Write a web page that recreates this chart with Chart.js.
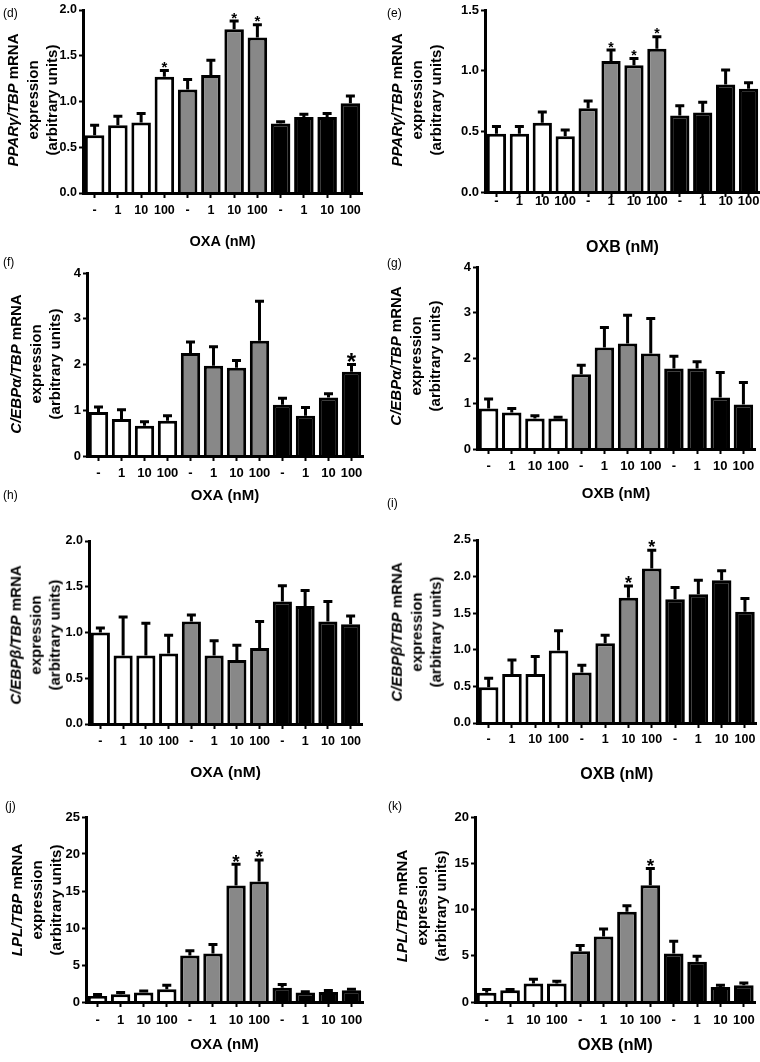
<!DOCTYPE html>
<html>
<head>
<meta charset="utf-8">
<script src="https://cdn.jsdelivr.net/npm/chart.js@4"></script>
<style>
  body { margin: 0; background: #fff; }
  #fig { position: relative; width: 760px; height: 1062px; overflow: hidden; }
  #fig canvas { position: absolute; }
  .lbl { position: absolute; font: 12px 'Liberation Sans', Arial, sans-serif; line-height: 14px; transform: translateY(-50%); }
  .yt { position: absolute; font-family: 'Liberation Sans', Arial, sans-serif; font-weight: bold; font-size: 15px;
        line-height: 19.5px; text-align: center; white-space: nowrap; transform: translate(-50%, -50%) rotate(-90deg); }
</style>
</head>
<body>
<div id="fig"></div>
<script>
// x categories: vehicle (-) and 1/10/100 nM, three culture groups
const categories = ['-', '1', '10', '100', '-', '1', '10', '100', '-', '1', '10', '100'];

// (d) PPARg, OXA
const pparg_oxa      = [0.63, 0.74, 0.77, 1.27, 1.13, 1.29, 1.79, 1.70, 0.76, 0.83, 0.83, 0.98];
const pparg_oxa_sem  = [0.11, 0.10, 0.10, 0.07, 0.11, 0.16, 0.09, 0.14, 0.02, 0.03, 0.04, 0.08];
const pparg_oxa_star = [3, 6, 7];

// (e) PPARg, OXB
const pparg_oxb      = [0.48, 0.48, 0.57, 0.46, 0.69, 1.08, 1.045, 1.18, 0.63, 0.655, 0.885, 0.85];
const pparg_oxb_sem  = [0.06, 0.06, 0.09, 0.05, 0.06, 0.09, 0.055, 0.10, 0.08, 0.085, 0.12, 0.05];
const pparg_oxb_star = [5, 6, 7];

// (f) C/EBPa, OXA
const cebpa_oxa      = [0.96, 0.81, 0.66, 0.77, 2.25, 1.97, 1.93, 2.52, 1.12, 0.88, 1.28, 1.84];
const cebpa_oxa_sem  = [0.11, 0.20, 0.09, 0.11, 0.24, 0.42, 0.16, 0.86, 0.14, 0.18, 0.08, 0.16];
const cebpa_oxa_star = [11];

// (g) C/EBPa, OXB
const cebpa_oxb      = [0.89, 0.80, 0.67, 0.67, 1.645, 2.23, 2.32, 2.10, 1.77, 1.77, 1.13, 0.98];
const cebpa_oxb_sem  = [0.21, 0.09, 0.06, 0.03, 0.195, 0.44, 0.62, 0.77, 0.27, 0.15, 0.55, 0.48];
const cebpa_oxb_star = [];

// (h) C/EBPb, OXA
const cebpb_oxa      = [1.00, 0.75, 0.75, 0.77, 1.12, 0.75, 0.70, 0.83, 1.34, 1.29, 1.12, 1.09];
const cebpb_oxa_sem  = [0.05, 0.42, 0.35, 0.20, 0.07, 0.16, 0.16, 0.29, 0.17, 0.17, 0.22, 0.09];
const cebpb_oxa_star = [];

// (i) C/EBPb, OXB
const cebpb_oxb      = [0.49, 0.67, 0.67, 0.99, 0.69, 1.09, 1.71, 2.11, 1.69, 1.76, 1.95, 1.52];
const cebpb_oxb_sem  = [0.12, 0.19, 0.24, 0.27, 0.10, 0.11, 0.16, 0.25, 0.16, 0.19, 0.13, 0.18];
const cebpb_oxb_star = [6, 7];

// (j) LPL, OXA
const lpl_oxa        = [0.80, 1.04, 1.27, 1.72, 6.28, 6.56, 15.73, 16.27, 1.94, 1.27, 1.36, 1.58];
const lpl_oxa_sem    = [0.20, 0.23, 0.23, 0.54, 0.64, 1.21, 2.87, 2.93, 0.41, 0.13, 0.18, 0.14];
const lpl_oxa_star   = [6, 7];

// (k) LPL, OXB
const lpl_oxb        = [1.01, 1.27, 1.99, 1.99, 5.50, 7.09, 9.76, 12.62, 5.24, 4.34, 1.63, 1.81];
const lpl_oxb_sem    = [0.33, 0.07, 0.47, 0.25, 0.61, 0.79, 0.64, 1.81, 1.34, 0.61, 0.18, 0.25];
const lpl_oxb_star   = [7];

const barColors = ['#fff', '#fff', '#fff', '#fff', '#888', '#888', '#888', '#888', '#000', '#000', '#000', '#000'];
const FONT = "'Liberation Sans', Arial, sans-serif";

const panels = [
  { tag: '(d)', vals: pparg_oxa, sem: pparg_oxa_sem, stars: pparg_oxa_star, max: 2, step: 0.5, dec: 1,
    ytitle: '<i>PPARγ/TBP</i> mRNA', xtitle: 'OXA (nM)',
    L: 0, T: 0, W: 380, H: 258, ax: 83, ty: 10, rx: 362, by: 193, tickY: 211, titleY: 242,
    tfs: 12.5, xfs: 14.5, sfs: 15, lx: 3, ly: 13, tcx: 32, tcy: 99.5 },
  { tag: '(e)', vals: pparg_oxb, sem: pparg_oxb_sem, stars: pparg_oxb_star, max: 1.5, step: 0.5, dec: 1,
    ytitle: '<i>PPARγ/TBP</i> mRNA', xtitle: 'OXB (nM)',
    L: 380, T: 0, W: 380, H: 260, ax: 485, ty: 10, rx: 760, by: 192, tickY: 201.5, titleY: 248,
    tfs: 13, xfs: 16, sfs: 14, lx: 387, ly: 13, tcx: 416, tcy: 99.5 },
  { tag: '(f)', vals: cebpa_oxa, sem: cebpa_oxa_sem, stars: cebpa_oxa_star, max: 4, step: 1, dec: 0,
    ytitle: '<i>C/EBPα/TBP</i> mRNA', xtitle: 'OXA (nM)',
    L: 0, T: 258, W: 380, H: 252, ax: 87, ty: 273, rx: 363, by: 456, tickY: 473, titleY: 496,
    tfs: 13, xfs: 15, sfs: 24, lx: 3, ly: 262, tcx: 35, tcy: 363.5 },
  { tag: '(g)', vals: cebpa_oxb, sem: cebpa_oxb_sem, stars: cebpa_oxb_star, max: 4, step: 1, dec: 0,
    ytitle: '<i>C/EBPα/TBP</i> mRNA', xtitle: 'OXB (nM)',
    L: 380, T: 252, W: 380, H: 256, ax: 477, ty: 267, rx: 755, by: 449, tickY: 466, titleY: 494,
    tfs: 13, xfs: 15, sfs: 16, lx: 387, ly: 263, tcx: 415, tcy: 355.5 },
  { tag: '(h)', vals: cebpb_oxa, sem: cebpb_oxa_sem, stars: cebpb_oxa_star, max: 2, step: 0.5, dec: 1,
    ytitle: '<i>C/EBPβ/TBP</i> mRNA', xtitle: 'OXA (nM)',
    L: 0, T: 526, W: 380, H: 260, ax: 89, ty: 541, rx: 362, by: 724, tickY: 742, titleY: 773,
    tfs: 12.5, xfs: 15.5, sfs: 16, lx: 3, ly: 495, tcx: 35, tcy: 634.5 },
  { tag: '(i)', vals: cebpb_oxb, sem: cebpb_oxb_sem, stars: cebpb_oxb_star, max: 2.5, step: 0.5, dec: 1,
    ytitle: '<i>C/EBPβ/TBP</i> mRNA', xtitle: 'OXB (nM)',
    L: 380, T: 525, W: 380, H: 262, ax: 477, ty: 540, rx: 757, by: 723, tickY: 740, titleY: 775,
    tfs: 12.5, xfs: 16, sfs: 18, lx: 387, ly: 503, tcx: 416, tcy: 631.5 },
  { tag: '(j)', vals: lpl_oxa, sem: lpl_oxa_sem, stars: lpl_oxa_star, max: 25, step: 5, dec: 0,
    ytitle: '<i>LPL/TBP</i> mRNA', xtitle: 'OXA (nM)',
    L: 0, T: 802, W: 380, H: 258, ax: 86, ty: 817, rx: 363, by: 1002, tickY: 1020, titleY: 1045,
    tfs: 13, xfs: 15, sfs: 19, lx: 5, ly: 806, tcx: 36, tcy: 900 },
  { tag: '(k)', vals: lpl_oxb, sem: lpl_oxb_sem, stars: lpl_oxb_star, max: 20, step: 5, dec: 0,
    ytitle: '<i>LPL/TBP</i> mRNA', xtitle: 'OXB (nM)',
    L: 380, T: 802, W: 380, H: 258, ax: 475, ty: 817, rx: 757, by: 1002, tickY: 1020, titleY: 1045,
    tfs: 13, xfs: 16.5, sfs: 19, lx: 388, ly: 806, tcx: 421, tcy: 906 }
];

// upward SEM bars with caps, plus significance stars
function errorBars(p) {
  return {
    id: 'errorBars',
    afterDatasetsDraw(chart) {
      const ctx = chart.ctx, ys = chart.scales.y, meta = chart.getDatasetMeta(0);
      ctx.save();
      ctx.strokeStyle = '#000';
      ctx.fillStyle = '#000';
      ctx.lineWidth = 3;
      p.vals.forEach((v, i) => {
        const x = meta.data[i].x;
        const y0 = ys.getPixelForValue(v);
        const y1 = ys.getPixelForValue(v + p.sem[i]);
        ctx.beginPath();
        ctx.moveTo(x, y0); ctx.lineTo(x, y1);
        ctx.moveTo(x - 4.5, y1); ctx.lineTo(x + 4.5, y1);
        ctx.stroke();
        if (p.stars.includes(i)) {
          ctx.font = 'bold ' + p.sfs + 'px ' + FONT;
          ctx.textAlign = 'center';
          ctx.textBaseline = 'alphabetic';
          ctx.fillText('*', x, y1 - 4 + 0.39 * p.sfs);
        }
      });
      ctx.restore();
    }
  };
}

const fig = document.getElementById('fig');

panels.forEach(p => {
  const cv = document.createElement('canvas');
  cv.width = p.W; cv.height = p.H;
  cv.style.left = p.L + 'px'; cv.style.top = p.T + 'px';
  cv.style.width = p.W + 'px'; cv.style.height = p.H + 'px';
  fig.appendChild(cv);

  const lbl = document.createElement('div');
  lbl.className = 'lbl';
  lbl.style.left = p.lx + 'px'; lbl.style.top = p.ly + 'px';
  lbl.textContent = p.tag;
  fig.appendChild(lbl);

  const yt = document.createElement('div');
  yt.className = 'yt';
  yt.style.left = p.tcx + 'px'; yt.style.top = p.tcy + 'px';
  yt.innerHTML = p.ytitle + '<br>expression<br>(arbitrary units)';
  fig.appendChild(yt);

  new Chart(cv, {
    type: 'bar',
    data: {
      labels: categories,
      datasets: [{
        data: p.vals,
        backgroundColor: barColors,
        borderColor: '#000',
        borderWidth: 3,
        barPercentage: 0.84,
        categoryPercentage: 1
      }]
    },
    options: {
      responsive: false,
      animation: false,
      devicePixelRatio: 1,
      layout: { padding: { top: p.ty - p.T, right: p.L + p.W - p.rx, left: 0, bottom: 0 } },
      plugins: { legend: { display: false }, tooltip: { enabled: false } },
      scales: {
        x: {
          afterFit: s => { s.height = p.T + p.H - p.by; },
          grid: { drawOnChartArea: false, offset: false, tickLength: 5, tickWidth: 2, color: '#000' },
          border: { display: true, color: '#000', width: 3, z: 1 },
          ticks: {
            autoSkip: false, maxRotation: 0, color: '#000',
            font: { family: FONT, weight: 'bold', size: p.tfs },
            padding: p.tickY - p.by - 5 - 0.6 * p.tfs
          },
          title: {
            display: true, text: p.xtitle, color: '#000',
            font: { family: FONT, weight: 'bold', size: p.xfs, lineHeight: 1.2 },
            padding: { top: 0, bottom: p.T + p.H - p.titleY - 0.6 * p.xfs }
          }
        },
        y: {
          min: 0, max: p.max,
          afterFit: s => { s.width = p.ax - p.L; },
          grid: { drawOnChartArea: false, tickLength: 4, tickWidth: 2, color: '#000' },
          border: { display: true, color: '#000', width: 3, z: 1 },
          ticks: {
            stepSize: p.step, padding: 2, color: '#000',
            font: { family: FONT, weight: 'bold', size: p.tfs },
            callback: v => v.toFixed(p.dec)
          }
        }
      }
    },
    plugins: [errorBars(p)]
  });
});
</script>
</body>
</html>
